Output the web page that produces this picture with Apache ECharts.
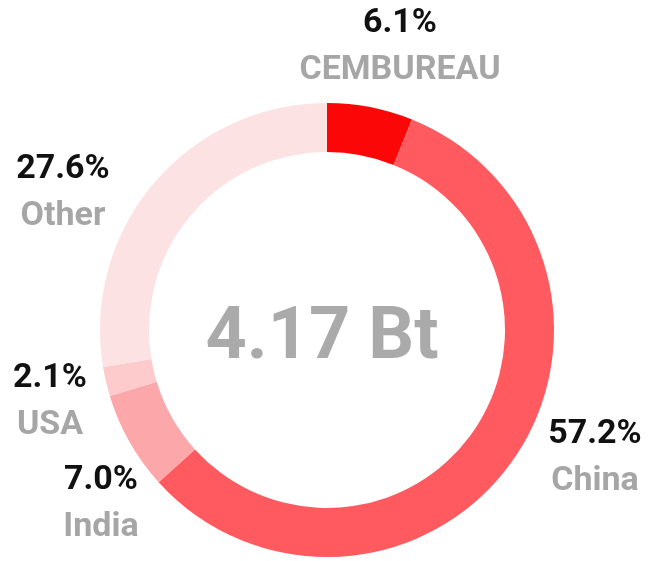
<!DOCTYPE html>
<html>
<head>
    <meta charset="utf-8">
    <title>Cement production share</title>
    <script src="https://cdn.jsdelivr.net/npm/echarts@6/dist/echarts.min.js"></script>
    <style>
        html, body { margin: 0; padding: 0; background: #fff; }
        #container { width: 648px; height: 561px; }
    </style>
</head>
<body>
<div id="container"></div>
<script>
    // data
    var names = ['CEMBUREAU', 'China', 'India', 'USA', 'Other'];
    var shares = [6.1, 57.2, 7.0, 2.1, 27.6];
    var colors = ['#fc0707', '#fe5a5f', '#fca8ab', '#fdcbcc', '#fde2e3'];
    var totalText = '4.17 Bt';

    // where each label block sits (centre of the two lines)
    var labelPos = [[400, 47], [595, 458], [101, 504], [50, 402], [63, 193]];

    var myChart = echarts.init(document.getElementById('container'));

    var seriesData = [];
    for (var i = 0; i < names.length; i++) {
        seriesData.push({name: names[i], value: shares[i], itemStyle: {color: colors[i]}});
    }

    var option = {
        animation: false,
        graphic: [{
            type: 'text',
            x: 322,
            y: 340,
            style: {
                text: totalText,
                fill: '#aaaaaa',
                font: 'bold 72px Roboto',
                textAlign: 'center',
                textVerticalAlign: 'middle'
            }
        }],
        series: [{
            type: 'pie',
            center: [327, 330],
            radius: [178, 227],
            startAngle: 90,
            clockwise: true,
            silent: true,
            data: seriesData,
            itemStyle: {borderWidth: 0},
            labelLine: {show: false},
            label: {
                show: true,
                position: 'outside',
                alignTo: 'none',
                overflow: 'none',
                formatter: function (p) {
                    return '{p|' + shares[p.dataIndex].toFixed(1) + '%}\n{n|' + p.name + '}';
                },
                rich: {
                    p: {fontFamily: 'Roboto', fontWeight: 'bold', fontSize: 34, color: '#111111', lineHeight: 47, align: 'center'},
                    n: {fontFamily: 'Roboto', fontWeight: 'bold', fontSize: 34, color: '#a6a6a6', lineHeight: 47, align: 'center'}
                }
            },
            labelLayout: function (params) {
                var pos = labelPos[params.dataIndex];
                return {x: pos[0], y: pos[1], align: 'center', verticalAlign: 'middle', hideOverlap: false};
            }
        }]
    };
    myChart.setOption(option);
</script>
</body>
</html>
